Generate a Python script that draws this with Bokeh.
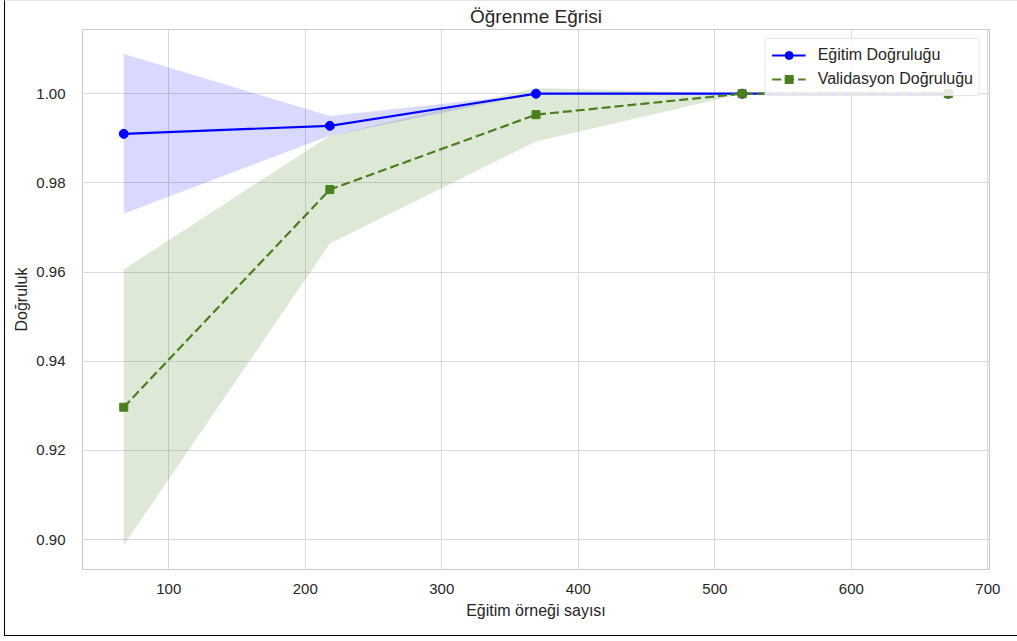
from bokeh.plotting import figure
from bokeh.models import (Range1d, FixedTicker, NumeralTickFormatter, Legend, LegendItem)
from bokeh.embed import file_html
from bokeh.resources import INLINE

# ---- data ----
train_sizes = [67, 218, 369, 520, 671]
train_mean = [0.9910, 0.9928, 1.0000, 1.0000, 1.0000]
train_std = [0.0179, 0.0022, 0.0000, 0.0000, 0.0000]
val_mean = [0.9297, 0.9785, 0.9953, 1.0000, 1.0000]
val_std = [0.0309, 0.0121, 0.0060, 0.0000, 0.0000]

x_ticks = [100, 200, 300, 400, 500, 600, 700]
y_ticks = [0.90, 0.92, 0.94, 0.96, 0.98, 1.00]

title_text = "Öğrenme Eğrisi"
x_label = "Eğitim örneği sayısı"
y_label = "Doğruluk"
train_label = "Eğitim Doğruluğu"
val_label = "Validasyon Doğruluğu"

FONT = "Liberation Sans"
TXT = "#262626"
BLUE = "#0000ff"
GREEN = "#4a7f1f"

train_lo = [m - s for m, s in zip(train_mean, train_std)]
train_hi = [m + s for m, s in zip(train_mean, train_std)]
val_lo = [m - s for m, s in zip(val_mean, val_std)]
val_hi = [m + s for m, s in zip(val_mean, val_std)]

p = figure(width=1013, height=636, output_backend="svg", toolbar_location=None,
           x_range=Range1d(36.8, 701.2), y_range=Range1d(0.8933, 1.0144),
           min_border_left=77, min_border_right=29, min_border_top=28,
           min_border_bottom=68, background_fill_color="white",
           border_fill_color="white",
           styles={"margin-left": "4px", "border-left": "1px solid black",
                   "border-bottom": "1px solid black",
                   "border-top": "1px solid #e6e6e6"})

p.title.text = title_text
p.title.align = "center"
p.title.text_font = FONT
p.title.text_font_size = "19px"
p.title.text_font_style = "normal"
p.title.text_color = TXT
p.title.text_line_height = 1.0
p.title.standoff = 5
p.title.offset = 0

p.outline_line_color = "#cccccc"
p.outline_line_width = 1.2

for ax in (p.xaxis[0], p.yaxis[0]):
    ax.axis_line_color = None
    ax.major_tick_line_color = None
    ax.minor_tick_line_color = None
    ax.major_label_text_font = FONT
    ax.major_label_text_font_size = "15px"
    ax.major_label_text_color = TXT
    ax.axis_label_text_font = FONT
    ax.axis_label_text_font_size = "16px"
    ax.axis_label_text_font_style = "normal"
    ax.axis_label_text_color = TXT

p.xaxis.ticker = FixedTicker(ticks=x_ticks)
p.yaxis.ticker = FixedTicker(ticks=y_ticks)
p.yaxis.formatter = NumeralTickFormatter(format="0.00")
p.xaxis.major_label_standoff = 8
p.yaxis.major_label_standoff = 11
p.xaxis.axis_label = x_label
p.yaxis.axis_label = y_label
p.xaxis.axis_label_standoff = 5
p.yaxis.axis_label_standoff = 3

p.xgrid.grid_line_color = "#d9d9d9"
p.ygrid.grid_line_color = "#d9d9d9"
p.xgrid.grid_line_width = 1
p.ygrid.grid_line_width = 1

# bands
p.varea(x=train_sizes, y1=train_lo, y2=train_hi, fill_color=BLUE, fill_alpha=0.15)
p.varea(x=train_sizes, y1=val_lo, y2=val_hi, fill_color=GREEN, fill_alpha=0.18)

# training curve
tl = p.line(train_sizes, train_mean, line_color=BLUE, line_width=2.2)
ts = p.scatter(train_sizes, train_mean, marker="circle", size=9,
               fill_color=BLUE, line_color=BLUE)
# validation curve
vl = p.line(train_sizes, val_mean, line_color=GREEN, line_width=2.2, line_dash="9 4")
vs = p.scatter(train_sizes, val_mean, marker="square", size=8,
               fill_color=GREEN, line_color=GREEN)

legend = Legend(items=[LegendItem(label=train_label, renderers=[tl, ts]),
                       LegendItem(label=val_label, renderers=[vl, vs])],
                location="top_right")
legend.margin = 9
legend.padding = 6
legend.spacing = 4
legend.glyph_width = 34
legend.glyph_height = 20
legend.label_standoff = 12
legend.label_text_font = FONT
legend.label_text_font_size = "16px"
legend.label_text_color = TXT
legend.border_line_color = "#d0d0d0"
legend.background_fill_alpha = 0.85
p.add_layout(legend)

open("out.html", "w").write(file_html(p, INLINE))
